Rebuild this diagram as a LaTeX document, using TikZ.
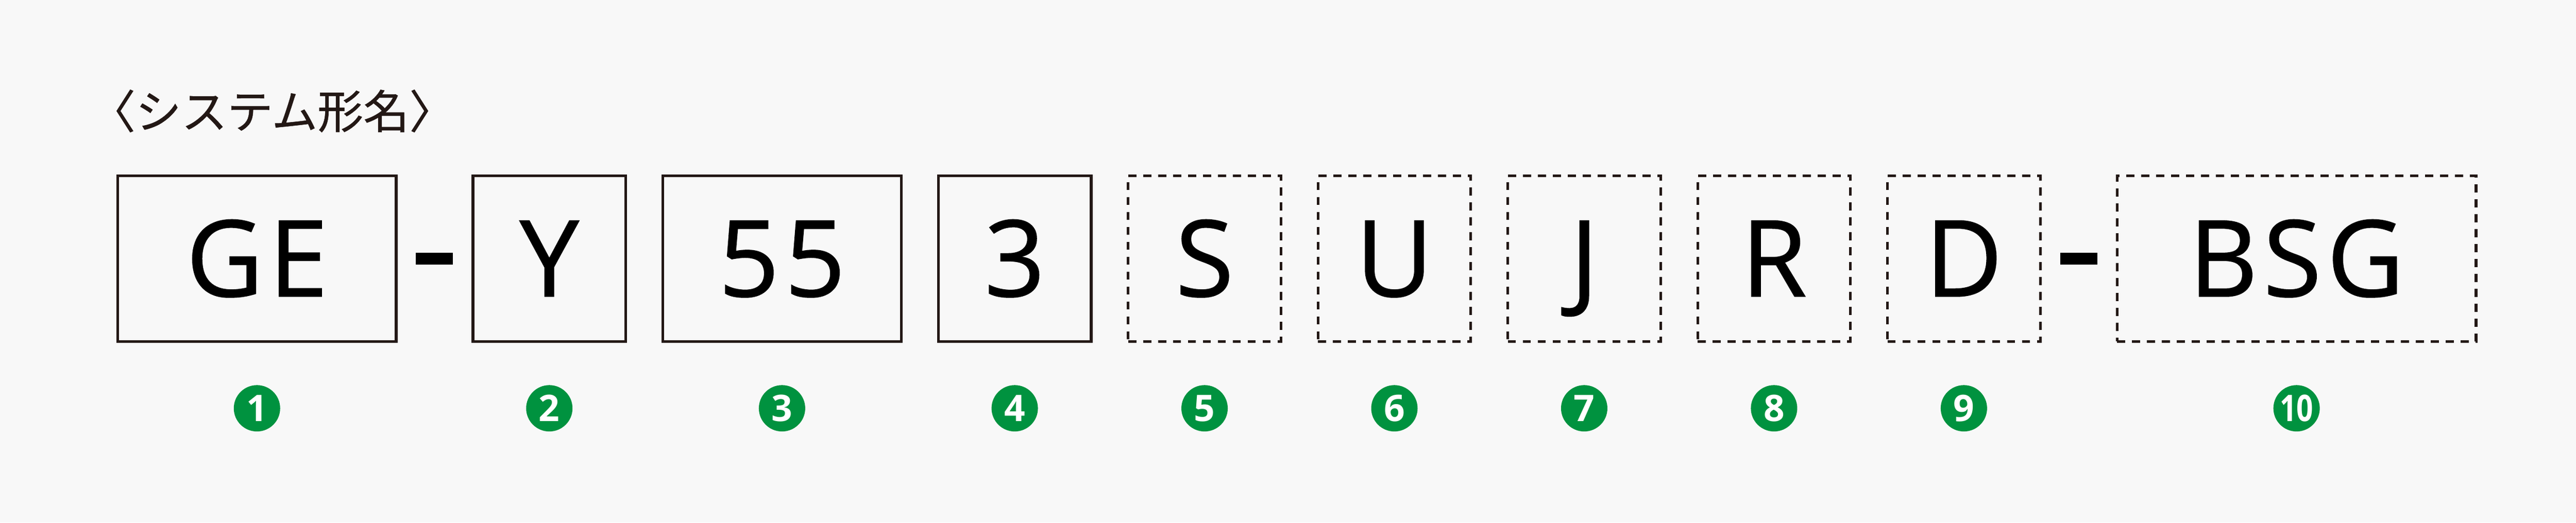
\documentclass[tikz,border=0pt]{standalone}
\usepackage{fontspec}
\usetikzlibrary{positioning}
\newfontfamily\jpfont[FakeBold=0.6]{Noto Sans CJK JP}
\newfontfamily\codefont[LetterSpace=5,FakeBold=0.8]{Open Sans}
\newfontfamily\numfont{Open Sans}
\definecolor{ink}{HTML}{231815}
\definecolor{mark}{HTML}{00923F}
\definecolor{paper}{HTML}{F8F8F8}
\begin{document}
\begin{tikzpicture}[line join=miter,
  box/.style={draw=ink, line width=1.65pt, minimum width=3.165cm, minimum height=3.435cm,
    inner sep=0pt, outer sep=0pt, text height=1.57cm, text depth=0pt,
    font={\codefont\fontsize{62.6}{63}\selectfont}},
  optbox/.style={box, line width=1.55pt, dash pattern=on 4.8pt off 4pt},
  hyphen/.style={fill=black, minimum width=0.77cm, minimum height=0.24cm, inner sep=0pt, outer sep=0pt},
  num/.style={circle, fill=mark, text=white, minimum size=0.96cm, inner sep=0pt, outer sep=0pt,
    font={\numfont\bfseries\fontsize{21.6}{22}\selectfont}}]
\fill[paper] (0,0) rectangle (53.33,-10.83);
\node[anchor=west, inner sep=0pt, text=ink, font={\jpfont\fontsize{27}{27}\selectfont}] (title) at (1.85,-2.30) {〈システム形名〉};
% code boxes
\node[box, minimum width=5.76cm] (GE) at (5.32,-5.3575) {GE};
\node[hyphen, right=4.1mm of GE] (h1) {};
\node[box, right=4.1mm of h1] (Y) {Y};
\node[box, minimum width=4.94cm, right=7.65mm of Y] (n55) {55};
\node[box, right=7.65mm of n55] (n3) {3};
\foreach \p/\q in {n3/S,S/U,U/J,J/R,R/D}
  \node[optbox, right=7.65mm of \p] (\q) {\q};
\node[hyphen, right=4.1mm of D] (h2) {};
\node[optbox, minimum width=7.43cm, right=4.1mm of h2] (BSG) {BSG};
% numbers
\foreach \p [count=\i] in {GE,Y,n55,n3,S,U,J,R,D,BSG}
  \node[num, below=9.05mm of \p] (m\i) {\ifnum\i=10 \scalebox{0.8}[1]{\i}\else\i\fi};
\end{tikzpicture}
\end{document}
